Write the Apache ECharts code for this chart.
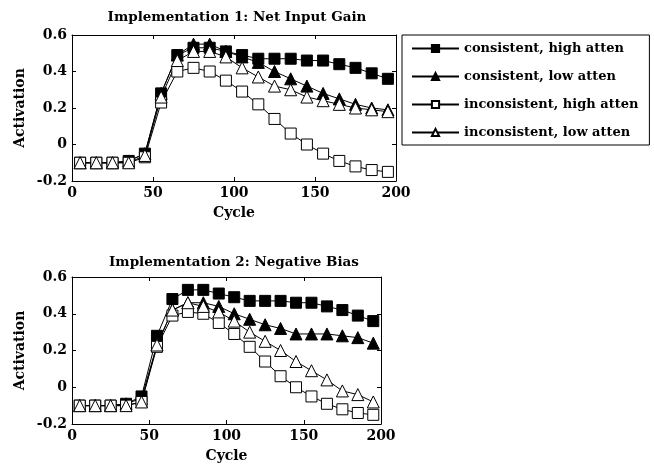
<!DOCTYPE html>
<html>
<head>
<meta charset="utf-8">
<script src="https://cdn.jsdelivr.net/npm/echarts@6/dist/echarts.min.js"></script>
<style>
html,body{margin:0;padding:0;background:#fff;}
#chart{width:654px;height:467px;}
</style>
</head>
<body>
<div id="chart"></div>
<script>
const cycles = [5,15,25,35,45,55,65,75,85,95,105,115,125,135,145,155,165,175,185,195];
const seriesNames = ['consistent, high atten','consistent, low atten','inconsistent, high atten','inconsistent, low atten'];
const titles = ['Implementation 1: Net Input Gain','Implementation 2: Negative Bias'];
const xTicks = [0,50,100,150,200];
const yTicks = [-0.2,0,0.2,0.4,0.6];

// Implementation 1
const imp1ConsHigh = [-0.10,-0.10,-0.10,-0.09,-0.05,0.28,0.49,0.53,0.53,0.51,0.49,0.47,0.47,0.47,0.46,0.46,0.44,0.42,0.39,0.36];
const imp1ConsLow  = [-0.10,-0.10,-0.10,-0.09,-0.05,0.28,0.49,0.55,0.55,0.51,0.48,0.45,0.40,0.36,0.32,0.28,0.25,0.22,0.20,0.19];
const imp1IncHigh  = [-0.10,-0.10,-0.10,-0.10,-0.07,0.23,0.40,0.42,0.40,0.35,0.29,0.22,0.14,0.06,0.00,-0.05,-0.09,-0.12,-0.14,-0.15];
const imp1IncLow   = [-0.10,-0.10,-0.10,-0.10,-0.06,0.26,0.46,0.51,0.51,0.48,0.42,0.37,0.32,0.30,0.26,0.24,0.22,0.20,0.19,0.18];

// Implementation 2
const imp2ConsHigh = [-0.10,-0.10,-0.10,-0.09,-0.05,0.28,0.48,0.53,0.53,0.51,0.49,0.47,0.47,0.47,0.46,0.46,0.44,0.42,0.39,0.36];
const imp2ConsLow  = [-0.10,-0.10,-0.10,-0.09,-0.06,0.23,0.42,0.46,0.46,0.44,0.40,0.37,0.34,0.32,0.29,0.29,0.29,0.28,0.27,0.24];
const imp2IncHigh  = [-0.10,-0.10,-0.10,-0.10,-0.08,0.22,0.39,0.41,0.40,0.35,0.29,0.22,0.14,0.06,0.00,-0.05,-0.09,-0.12,-0.14,-0.15];
const imp2IncLow   = [-0.10,-0.10,-0.10,-0.10,-0.08,0.23,0.42,0.46,0.44,0.41,0.36,0.30,0.25,0.20,0.14,0.09,0.04,-0.02,-0.04,-0.08];

const FONT = 'DejaVu Serif';
const styles = [
  {symbol:'rect', size:11, fill:'#000'},
  {symbol:'triangle', size:12, fill:'#000'},
  {symbol:'rect', size:11, fill:'#fff'},
  {symbol:'triangle', size:12, fill:'#fff'}
];
const pairs = (ys) => cycles.map((c,i)=>[c, ys[i]]);
const data1 = [imp1ConsHigh, imp1ConsLow, imp1IncHigh, imp1IncLow];
const data2 = [imp2ConsHigh, imp2ConsLow, imp2IncHigh, imp2IncLow];

const tickFmt = v => (Math.abs(v) < 1e-9 ? '0' : (Math.round(v*10)/10).toFixed(1));

function xAx(gridIndex, pos){
  const main = pos === 'bottom';
  return {
    type:'value', gridIndex, position:pos, min:0, max:200, interval:50,
    name: main ? 'Cycle' : '', nameLocation:'middle', nameGap:25,
    nameTextStyle:{fontFamily:FONT, fontWeight:'bold', fontSize:14, color:'#000'},
    axisLine:{show:true, onZero:false, lineStyle:{color:'#000', width:1}},
    axisTick:{show:true, inside:true, length:4, lineStyle:{color:'#000'}},
    axisLabel:{show:main, margin:5, fontFamily:FONT, fontWeight:'bold', fontSize:14, color:'#000'},
    splitLine:{show:false}
  };
}
function yAx(gridIndex, pos){
  const main = pos === 'left';
  return {
    type:'value', gridIndex, position:pos, min:-0.2, max:0.6, interval:0.2,
    name: main ? 'Activation' : '', nameLocation:'middle', nameGap:45, nameRotate:90,
    nameTextStyle:{fontFamily:FONT, fontWeight:'bold', fontSize:14, color:'#000'},
    axisLine:{show:true, onZero:false, lineStyle:{color:'#000', width:1}},
    axisTick:{show:true, inside:true, length:4, lineStyle:{color:'#000'}},
    axisLabel:{show:main, margin:5, fontFamily:FONT, fontWeight:'bold', fontSize:14, color:'#000', formatter:tickFmt},
    splitLine:{show:false}
  };
}

function makeSeries(datasets, xi, yi){
  return datasets.map((d,k)=>({
    type:'line', name:seriesNames[k], xAxisIndex:xi, yAxisIndex:yi,
    data:pairs(d), symbol:styles[k].symbol, symbolSize:styles[k].size,
    showAllSymbol:true, animation:false,
    lineStyle:{color:'#000', width:1},
    itemStyle:{color:styles[k].fill, borderColor:'#000', borderWidth:1, opacity:1},
    emphasis:{disabled:true}
  }));
}

const chart = echarts.init(document.getElementById('chart'));
chart.setOption({
  backgroundColor:'#fff',
  animation:false,
  title:[
    {text:titles[0], left:232, top:5, textAlign:'center', textStyle:{fontFamily:FONT, fontWeight:'bold', fontSize:13.5, color:'#000'}},
    {text:titles[1], left:229, top:250, textAlign:'center', textStyle:{fontFamily:FONT, fontWeight:'bold', fontSize:13.5, color:'#000'}}
  ],
  legend:{
    data:seriesNames, orient:'vertical', left:402, top:35,
    itemWidth:47, itemHeight:9, itemGap:15,
    padding:[7,11,6,9],
    borderColor:'#000', borderWidth:1, backgroundColor:'#fff',
    textStyle:{fontFamily:FONT, fontWeight:'bold', fontSize:13, color:'#000'},
    selectedMode:false
  },
  grid:[
    {left:72, top:35, width:324, height:146, show:false},
    {left:72, top:277, width:309, height:147, show:false}
  ],
  xAxis:[xAx(0,'bottom'), xAx(0,'top'), xAx(1,'bottom'), xAx(1,'top')],
  yAxis:[yAx(0,'left'), yAx(0,'right'), yAx(1,'left'), yAx(1,'right')],
  series:[...makeSeries(data1,0,0), ...makeSeries(data2,2,2)]
});
</script>
</body>
</html>
